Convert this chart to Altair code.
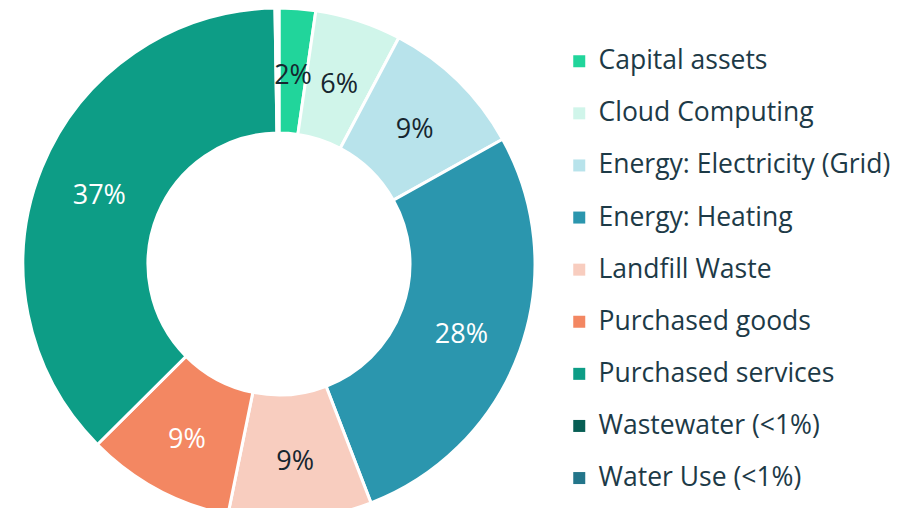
import altair as alt
import pandas as pd

categories = ["Capital assets", "Cloud Computing", "Energy: Electricity (Grid)",
              "Energy: Heating", "Landfill Waste", "Purchased goods",
              "Purchased services", "Wastewater (<1%)", "Water Use (<1%)"]
values = [2.3, 5.45, 9.15, 27.25, 9.05, 9.35, 37.2, 0.1, 0.15]
labels = ["2%", "6%", "9%", "28%", "9%", "9%", "37%", "", ""]
colors = ["#21d59b", "#d0f5ea", "#b8e3eb", "#2b96ae", "#f8cdbf",
          "#f38762", "#0d9d86", "#075e54", "#23758a"]
label_colors = ["#16262f", "#16262f", "#16262f", "#ffffff", "#16262f",
                "#ffffff", "#ffffff", "#ffffff", "#ffffff"]

df = pd.DataFrame({
    "category": categories,
    "value": values,
    "label": labels,
    "ord": list(range(len(categories))),
    "tcolor": label_colors,
})

CX, CY = 271, 256
base = alt.Chart(df).encode(
    theta=alt.Theta("value:Q", stack=True),
    order=alt.Order("ord:Q", sort="ascending"),
)

arcs = base.mark_arc(outerRadius=256, innerRadius=131, stroke="white", strokeWidth=3).encode(
    x=alt.value(CX),
    y=alt.value(CY),
    color=alt.Color(
        "category:N",
        scale=alt.Scale(domain=categories, range=colors),
        legend=alt.Legend(
            title=None,
            orient="none",
            legendX=558,
            legendY=40,
            symbolType="square",
            symbolSize=144,
            symbolStrokeWidth=0,
            labelFontSize=26.5,
            labelFont="Open Sans",
            labelColor="#1d3a47",
            labelLimit=400,
            labelOffset=6,
            rowPadding=25.1,
        ),
    ),
)

text = base.mark_text(radius=194, dy=5, font="Open Sans", fontSize=27).encode(
    x=alt.value(CX),
    y=alt.value(CY),
    text="label:N",
    color=alt.Color("tcolor:N", scale=None),
)

chart = (arcs + text).properties(
    width=907,
    height=500,
    autosize=alt.AutoSizeParams(type="none"),
    padding=0,
).configure_view(stroke=None)

chart.save("out.html", embed_options={"renderer": "svg", "actions": False})
